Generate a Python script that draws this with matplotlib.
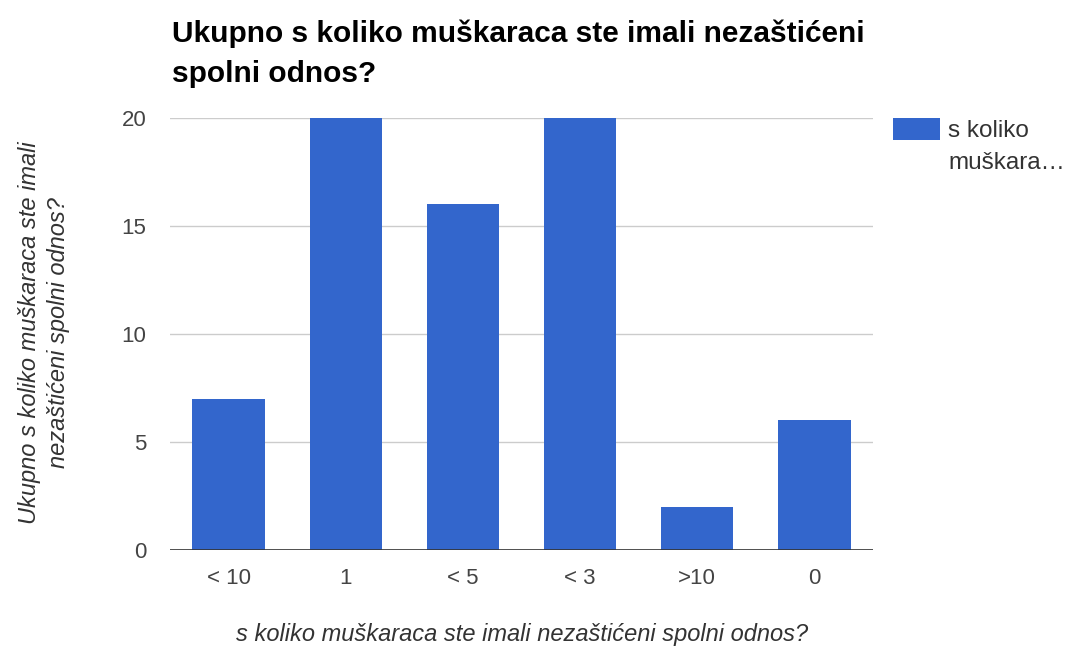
import matplotlib.pyplot as plt
from matplotlib.patches import Rectangle

categories = ['< 10', '1', '< 5', '< 3', '>10', '0']
counts = [7, 20, 16, 20, 2, 6]
yticks = [0, 5, 10, 15, 20]
series_name = 's koliko\nmuškara…'
bar_color = '#3366cc'

plt.rcParams['font.family'] = ['Liberation Sans', 'DejaVu Sans']

W, H = 1065, 648
fig = plt.figure(figsize=(W / 100, H / 100), dpi=100)
# plot area in pixels: x 170..873, y 118..550
ax = fig.add_axes([170 / W, 1 - 550 / H, (873 - 170) / W, (550 - 118) / H])

x = list(range(len(categories)))
ax.bar(x, counts, width=0.616, color=bar_color, zorder=3)
ax.set_xlim(-0.5, len(categories) - 0.5)
ax.set_ylim(0, 20)
ax.set_yticks(yticks)
ax.set_xticks(x)
ax.set_xticklabels(categories)
ax.yaxis.grid(True, color='#cccccc', linewidth=1, zorder=0)
ax.axhline(0, color='#333333', linewidth=1.2, zorder=4)
for s in ax.spines.values():
    s.set_visible(False)
ax.tick_params(length=0, labelsize=16, colors='#444444')
ax.tick_params(axis='x', pad=13)
ax.tick_params(axis='y', pad=17)

fig.text(172 / W, 1 - 20 / H, 'Ukupno s koliko muškaraca ste imali nezaštićeni\nspolni odnos?',
         fontsize=21.5, fontweight='bold', color='black', va='top', ha='left', linespacing=1.5)

fig.text(522 / W, 1 - 635 / H, 's koliko muškaraca ste imali nezaštićeni spolni odnos?',
         fontsize=17, style='italic', color='#333333', ha='center', va='center')
fig.text(44 / W, 1 - 333 / H, 'Ukupno s koliko muškaraca ste imali\nnezaštićeni spolni odnos?',
         fontsize=17, style='italic', color='#333333', ha='center', va='center', rotation=90,
         linespacing=1.35)

# legend: swatch next to first line of the wrapped series name
fig.patches.append(Rectangle((893 / W, 1 - 140 / H), 47 / W, 22 / H, transform=fig.transFigure,
                             facecolor=bar_color, edgecolor='none'))
fig.text(948 / W, 1 - 120 / H, series_name, fontsize=17.5, color='#333333',
         ha='left', va='top', linespacing=1.6)

fig.savefig('out.png', dpi=100)
